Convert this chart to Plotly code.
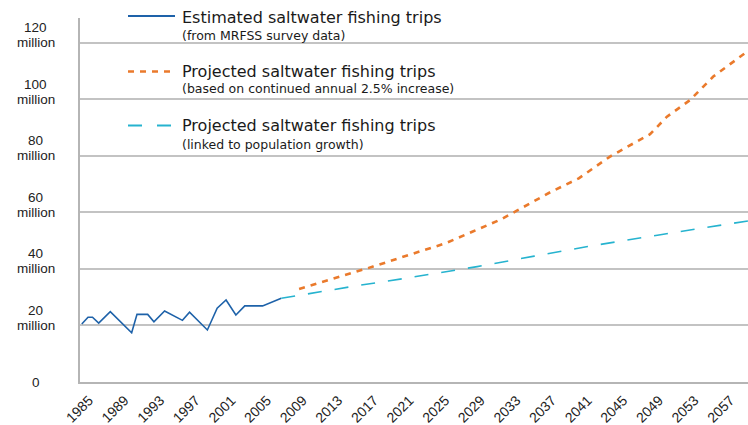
import plotly.graph_objects as go

# ---------------- data ----------------
est_years = [1985.2, 1985.9, 1986.4, 1987.1, 1988.4, 1990.8, 1991.4, 1992.6, 1993.3,
             1994.5, 1996.5, 1997.3, 1999.3, 2000.4, 2001.4, 2002.5, 2003.5, 2005.5, 2007.6]
est_trips = [20.5, 22.9, 22.9, 20.8, 24.9, 17.4, 23.9, 23.9, 21.3,
             25.1, 21.8, 24.7, 18.4, 26.1, 29.0, 23.7, 26.9, 26.9, 29.6]

rate_years = [2009.6, 2013.9, 2017.9, 2021.9, 2026.0, 2029.1, 2032.2, 2034.0, 2037.8,
              2041.0, 2044.5, 2047.5, 2049.0, 2050.9, 2053.5, 2056.1, 2059.8, 2060.5]
rate_trips = [32.9, 37.0, 40.8, 44.9, 49.0, 53.2, 57.4, 60.5, 67.1,
              72.0, 79.7, 85.0, 87.6, 93.8, 99.7, 108.0, 116.5, 118.2]

pop_years = [2007.6, 2011.0, 2016.0, 2022.0, 2029.6, 2036.0, 2042.0, 2050.0, 2060.5]
pop_trips = [29.6, 31.4, 34.0, 36.9, 40.8, 44.5, 47.9, 52.0, 57.2]

x_tick_years = list(range(1985, 2058, 4))
y_tick_values = [0, 20, 40, 60, 80, 100, 120]

legend_titles = ["Estimated saltwater fishing trips",
                 "Projected saltwater fishing trips",
                 "Projected saltwater fishing trips"]
legend_notes = ["(from MRFSS survey data)",
                "(based on continued annual 2.5% increase)",
                "(linked to population growth)"]

# ---------------- styling ----------------
BLUE = "#1e62a9"
ORANGE = "#ea7a2c"
CYAN = "#26b3cf"
GRID = "#c3c3c3"
W, H = 748, 425
ML, MR, MT, MB = 80, 0, 18, 43
PW, PH = W - ML - MR, H - MT - MB


def px_x(px):
    return (px - ML) / PW


def px_y(py):
    return (H - MB - py) / PH


fig = go.Figure()
fig.add_trace(go.Scatter(x=est_years, y=est_trips, mode="lines",
                         line=dict(color=BLUE, width=1.6), showlegend=False,
                         name=legend_titles[0]))
fig.add_trace(go.Scatter(x=pop_years, y=pop_trips, mode="lines",
                         line=dict(color=CYAN, width=1.6, dash="14px,13px"),
                         showlegend=False, name=legend_titles[2]))
fig.add_trace(go.Scatter(x=rate_years, y=rate_trips, mode="lines",
                         line=dict(color=ORANGE, width=2.6, dash="6px,6px"),
                         showlegend=False, name=legend_titles[1]))

# manual legend
legend_styles = [
    dict(color=BLUE, width=2, dash="solid"),
    dict(color=ORANGE, width=2.6, dash="6px,6px"),
    dict(color=CYAN, width=2, dash="14px,15px"),
]
legend_line_y = [16, 71.5, 125.5]
title_y = [17.5, 71.5, 126]
note_y = [35.5, 89, 144]
shapes = []
annotations = []
for i in range(3):
    shapes.append(dict(type="line", xref="paper", yref="paper",
                       x0=px_x(128), x1=px_x(175),
                       y0=px_y(legend_line_y[i]), y1=px_y(legend_line_y[i]),
                       line=legend_styles[i]))
    annotations.append(dict(xref="paper", yref="paper", x=px_x(180), y=px_y(title_y[i]),
                            xanchor="left", yanchor="middle", showarrow=False,
                            text=legend_titles[i],
                            font=dict(family="DejaVu Sans", size=16, color="#1a1a1a")))
    annotations.append(dict(xref="paper", yref="paper", x=px_x(180), y=px_y(note_y[i]),
                            xanchor="left", yanchor="middle", showarrow=False,
                            text=legend_notes[i],
                            font=dict(family="DejaVu Sans", size=12.5, color="#1a1a1a")))

# y tick labels ("NN" over "million", centered)
YFONT = dict(family="Liberation Sans", size=13.5, color="#222")
for v in y_tick_values:
    if v == 0:
        annotations.append(dict(xref="paper", yref="y", x=px_x(36), y=v,
                                xanchor="center", yanchor="middle", showarrow=False,
                                text=str(v), font=YFONT))
    else:
        annotations.append(dict(xref="paper", yref="y", x=px_x(36), y=v, yshift=15,
                                xanchor="center", yanchor="middle", showarrow=False,
                                text=str(v), font=YFONT))
        annotations.append(dict(xref="paper", yref="y", x=px_x(36), y=v,
                                xanchor="center", yanchor="middle", showarrow=False,
                                text="million", font=YFONT))

fig.update_layout(
    width=W, height=H,
    margin=dict(l=ML, r=MR, t=MT, b=MB),
    paper_bgcolor="white", plot_bgcolor="white",
    shapes=shapes, annotations=annotations,
    showlegend=False,
)
fig.update_xaxes(range=[1985, 2060], tickmode="array", tickvals=x_tick_years,
                 ticktext=[str(y) for y in x_tick_years], tickangle=-45,
                 tickfont=dict(family="Liberation Sans", size=14, color="#222"),
                 showgrid=False, zeroline=False, showline=True, linecolor="#b5b5b5",
                 linewidth=1.5, ticks="", ticklabelshift=9, ticklabelstandoff=3,
                 automargin=False)
fig.update_yaxes(range=[0, 128.7], tickvals=y_tick_values, showticklabels=False,
                 showgrid=True, gridcolor=GRID, gridwidth=1.5, zeroline=False,
                 showline=True, linecolor="#b5b5b5", linewidth=1.5, ticks="",
                 automargin=False)

fig.write_html("out.html", config={"displayModeBar": False},
               post_script="document.body.style.margin='0';document.body.style.overflow='hidden';")
